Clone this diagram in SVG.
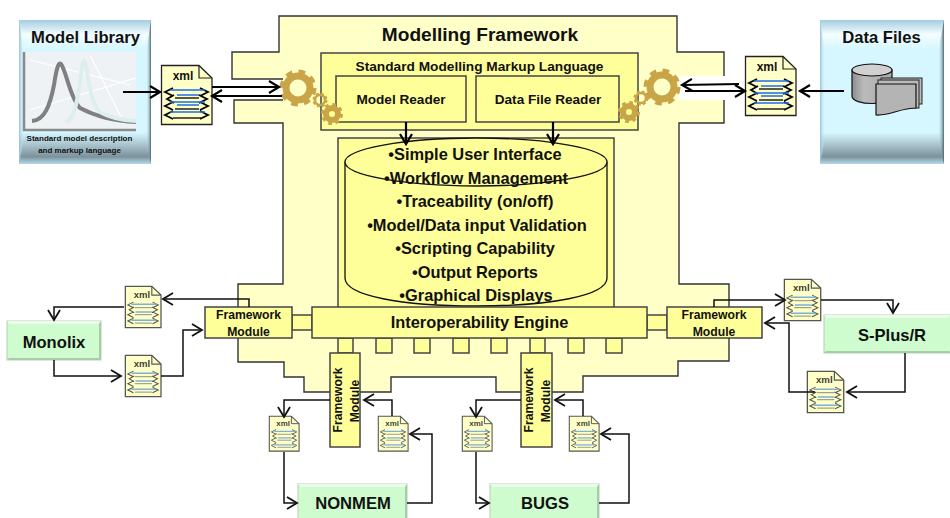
<svg xmlns="http://www.w3.org/2000/svg" width="950" height="518" viewBox="0 0 950 518">
<style>
text{font-family:"Liberation Sans",Arial,sans-serif;font-weight:bold;fill:#111;text-anchor:middle}
.y{fill:#ffff99;stroke:#444;stroke-width:1.5}
.conn{fill:none;stroke:#111;stroke-width:1.5}
.thick{fill:none;stroke:#000;stroke-width:2.2}
.green{fill:#cefcce;stroke:#b4d2b4;stroke-width:1}
.hi{fill:#ecfcea}
.lo{fill:#a9cba9}
.cyl{fill:#ffff99;stroke:#111;stroke-width:1.3}
.gear{fill:none;stroke:#c9a548}
.b{font-size:16.4px}
.fm{font-size:12.2px}
.gn{font-size:16.600px}
.rd{font-size:13.600px}
</style>
<defs>
<linearGradient id="pv" x1="0" y1="0" x2="0" y2="1">
<stop offset="0" stop-color="#a3cde0"/><stop offset=".1" stop-color="#f4fdff"/><stop offset=".2" stop-color="#d6f7ff"/><stop offset=".78" stop-color="#d6f7ff"/><stop offset=".95" stop-color="#7c929c"/><stop offset="1" stop-color="#b4dbea"/>
</linearGradient>
<linearGradient id="pr" x1="0" y1="0" x2="1" y2="0"><stop offset="0" stop-color="#d6f7ff" stop-opacity="0"/><stop offset="1" stop-color="#4e6670"/></linearGradient>
<linearGradient id="pl" x1="1" y1="0" x2="0" y2="0"><stop offset="0" stop-color="#d6f7ff" stop-opacity="0"/><stop offset="1" stop-color="#9cc0cf"/></linearGradient>
<linearGradient id="cylg" x1="0" y1="0" x2="1" y2="0"><stop offset="0" stop-color="#8e8e8e"/><stop offset=".3" stop-color="#bbb"/><stop offset="1" stop-color="#a8a8a8"/></linearGradient>
<marker id="a" markerUnits="userSpaceOnUse" markerWidth="14" markerHeight="16" refX="11" refY="7" orient="auto"><path d="M1 1L11 7L1 13" fill="none" stroke="#111" stroke-width="1.8"/></marker>
<marker id="at" markerUnits="userSpaceOnUse" markerWidth="14" markerHeight="16" refX="11" refY="7" orient="auto"><path d="M1 1L11 7L1 13" fill="none" stroke="#000" stroke-width="2.2"/></marker>
<g id="doc">
<path d="M0.5 .5H38L51 13V59.5H0.5Z" fill="#ffffc8" stroke="#222" stroke-width="1.3"/>
<path d="M38 .5V13H51" fill="none" stroke="#222" stroke-width="1.2"/>
<text x="22" y="15" style="font-size:12px">xml</text>
<g fill="none" stroke="#000" stroke-width="1.800">
<path d="M12 23L4 27L12 31M13 30L6 34L13 38M12 37L4 41L12 45M12 46L4 50L12 54M39 23L47 27L39 31M38 30L46 34L38 38M39 37L47 41L39 45M39 46L47 50L39 54"/>
</g>
<g fill="none" stroke-width="1.3">
<path d="M9 25H44M16 30H38M9 37H44M16 40H38M9 47H44" stroke="#1a6fe8"/>
<path d="M14 33H38M14 44H38M12 53H40" stroke="#222"/>
</g>
</g>
<g id="docs">
<path d="M0.5 .5H38L51 13V59.5H0.5Z" fill="#ffffc8" stroke="#555" stroke-width="1.8"/>
<path d="M38 .5V13H51" fill="none" stroke="#555" stroke-width="1.6"/>
<text x="24" y="17" style="font-size:13.5px" fill-opacity=".85">xml</text>
<g fill="none" stroke="#555" stroke-width="1.5">
<path d="M12 23L4 27L12 31M13 30L6 34L13 38M12 37L4 41L12 45M12 46L4 50L12 54M39 23L47 27L39 31M38 30L46 34L38 38M39 37L47 41L39 45M39 46L47 50L39 54"/>
</g>
<g fill="none" stroke-width="2.2">
<path d="M9 26H44M15 37H38M9 49H44" stroke="#7eb0d8"/>
<path d="M14 31H38M14 41H38M14 53H38" stroke="#777" stroke-width="1.2"/>
</g>
</g>
</defs>

<g id="framework">
<path d="M279 16H677V52H724V76H679V100H724V123H679V284H729V361H678V376H583V392H496V377H391V392H304V377H284V362H238V284H283V123H234V100H283V79H232V52H279Z" fill="#ffffc8" stroke="none"/>
<path d="M283 79H232V52H279V16H677V52H724V76M724 100V123H679V284H729V361H678V376H583V392H496V377H391V392H304V377H284V362H238V284H283V123H234V100H283" fill="none" stroke="#333" stroke-width="1.4"/>
<text x="480" y="41" style="font-size:19.100px">Modelling Framework</text>
</g>

<g id="smml">
<rect x="321" y="53" width="317" height="77" class="y"/>
<text x="479.500" y="71" style="font-size:13.700px">Standard Modelling Markup Language</text>
</g>
<g id="model-reader"><rect x="336" y="76" width="130" height="46" class="y"/><text x="401" y="104" class="rd">Model Reader</text></g>
<g id="data-file-reader"><rect x="476" y="76" width="143" height="46" class="y"/><text x="548" y="104" class="rd">Data File Reader</text></g>

<g id="features">
<rect x="338" y="138" width="276" height="172" class="y"/>
<path d="M345 162V278C345 296 403 306 476 306S607 296 607 278V162" class="cyl"/>
<ellipse cx="476" cy="162" rx="131" ry="24" class="cyl"/>
<text x="475" y="160" class="b">•Simple User Interface</text>
<text x="476" y="184" class="b">•Workflow Management</text>
<text x="475" y="207" class="b">•Traceability (on/off)</text>
<text x="477" y="231" class="b">•Model/Data input Validation</text>
<text x="475" y="254" class="b">•Scripting Capability</text>
<text x="475" y="278" class="b">•Output Reports</text>
<text x="476" y="301" class="b">•Graphical Displays</text>
</g>

<g id="model-library">
<rect x="19" y="20" width="132" height="144" fill="url(#pv)"/>
<path d="M19 20L24 52V140L19 164Z" fill="url(#pl)"/>
<path d="M151 20L146 52V140L151 164Z" fill="url(#pr)"/>
<text x="85.500" y="43" style="font-size:16.600px">Model Library</text>
<rect x="23" y="52" width="113" height="77" fill="#eef2f5"/>
<path d="M30 60L130 85M30 110L136 78M90 55L125 125" stroke="#fff" stroke-width="1.2" fill="none"/>
<path d="M24 52V130H136" fill="none" stroke="#8a8a8a" stroke-width="2.5"/>
<path d="M32 121C45 120 50 105 54 85C57 65 59 62 61 64C66 70 70 98 80 108C95 116 115 121 136 122" fill="none" stroke="#808080" stroke-width="4"/>
<path d="M66 122C74 120 78 100 81 75C83 58 84 58 86 65C89 85 92 105 100 112C110 118 120 120 136 121" fill="none" stroke="#dcefee" stroke-width="4"/>
<text x="79.500" y="141" style="font-size:8px">Standard model description</text>
<text x="79.500" y="153" style="font-size:8px">and markup language</text>
</g>

<g id="data-files">
<rect x="820" y="20" width="124" height="144" fill="url(#pv)"/>
<path d="M820 20L825 52V140L820 164Z" fill="url(#pl)"/>
<path d="M944 20L938 52V140L944 164Z" fill="url(#pr)"/>
<text x="881.500" y="43" style="font-size:16.600px">Data Files</text>
<path d="M852 70V96C852 106 892 106 892 96V70Z" fill="url(#cylg)" stroke="#111" stroke-width="1.2"/>
<ellipse cx="872" cy="70" rx="20" ry="6" fill="#d0d0d0" stroke="#111" stroke-width="1.200"/>
<rect x="881" y="78" width="41" height="26" fill="#bbb" stroke="#222"/>
<rect x="878" y="80" width="41" height="28" fill="#bbb" stroke="#222"/>
<path d="M876 84H916V108C900 108 890 116 876 115Z" fill="#b4b4b4" stroke="#111" stroke-width="1.2"/>
</g>

<g id="gears">
<g id="gear-left">
<circle cx="298" cy="88" r="12" class="gear" stroke-width="7"/>
<circle cx="298" cy="88" r="16" class="gear" stroke-width="5" stroke-dasharray="6.500 6.070"/>
<circle cx="320" cy="100" r="5" class="gear" stroke-width="2.500"/>
<circle cx="320" cy="100" r="6.500" class="gear" stroke-width="2" stroke-dasharray="3 2.100"/>
<circle cx="332" cy="114" r="6" class="gear" stroke-width="6"/>
<circle cx="332" cy="114" r="9.500" class="gear" stroke-width="3" stroke-dasharray="3.700 3.760"/>
</g>
<g id="gear-right">
<circle cx="662" cy="87" r="12" class="gear" stroke-width="7"/>
<circle cx="662" cy="87" r="16" class="gear" stroke-width="5" stroke-dasharray="6.500 6.070"/>
<circle cx="641" cy="98" r="5" class="gear" stroke-width="2.500"/>
<circle cx="641" cy="98" r="6.500" class="gear" stroke-width="2" stroke-dasharray="3 2.100"/>
<circle cx="629" cy="112" r="6" class="gear" stroke-width="6"/>
<circle cx="629" cy="112" r="9.500" class="gear" stroke-width="3" stroke-dasharray="3.700 3.760"/>
</g>
</g>

<g id="interoperability">
<rect x="292" y="315" width="20" height="15" class="y"/>
<rect x="647" y="315" width="20" height="15" class="y"/>
<rect x="338" y="338" width="15" height="15" class="y"/>
<rect x="376" y="338" width="16" height="15" class="y"/>
<rect x="414" y="338" width="16" height="15" class="y"/>
<rect x="453" y="338" width="16" height="15" class="y"/>
<rect x="491" y="338" width="16" height="15" class="y"/>
<rect x="530" y="338" width="15" height="15" class="y"/>
<rect x="568" y="338" width="16" height="15" class="y"/>
<rect x="606" y="338" width="16" height="15" class="y"/>
<rect x="312" y="307" width="335" height="31" class="y"/>
<text x="479.500" y="328" style="font-size:16.400px">Interoperability Engine</text>
</g>

<g id="fm-left"><rect x="205" y="307" width="87" height="31" class="y"/><text x="248.500" y="319" class="fm">Framework</text><text x="248.500" y="336" class="fm">Module</text></g>
<g id="fm-right"><rect x="667" y="307" width="95" height="31" class="y"/><text x="714" y="319" class="fm">Framework</text><text x="714" y="336" class="fm">Module</text></g>
<g id="fm-bottom-1"><rect x="330" y="353" width="30" height="94" class="y"/><text transform="translate(342 400) rotate(-90)" class="fm">Framework</text><text transform="translate(359 401) rotate(-90)" class="fm">Module</text></g>
<g id="fm-bottom-2"><rect x="521" y="353" width="31" height="94" class="y"/><text transform="translate(533 400) rotate(-90)" class="fm">Framework</text><text transform="translate(550 401) rotate(-90)" class="fm">Module</text></g>

<g id="monolix"><rect x="7" y="321" width="94" height="39" class="green"/><path class="hi" d="M7 321H101L98 324H10Z"/><path class="lo" d="M7 360H101L99 358H9Z"/><path class="lo" d="M101 321V360L99 358V324Z"/><text x="54" y="348" class="gn">Monolix</text></g>
<g id="splus"><rect x="824" y="315" width="127" height="38" class="green"/><path class="hi" d="M824 315H951L948 318H827Z"/><path class="lo" d="M824 353H951L949 351H826Z"/><text x="892" y="341" class="gn">S-Plus/R</text></g>
<g id="nonmem"><rect x="298" y="484" width="109" height="36" class="green"/><path class="hi" d="M298 484H407L404 487H301Z"/><path class="lo" d="M407 484V520L405 518V487Z"/><text x="353" y="509" class="gn">NONMEM</text></g>
<g id="bugs"><rect x="490" y="484" width="109" height="36" class="green"/><path class="hi" d="M490 484H599L596 487H493Z"/><path class="lo" d="M599 484V520L597 518V487Z"/><text x="545" y="509" class="gn">BUGS</text></g>

<g id="xml-docs">
<use id="xml-1" href="#doc" x="161" y="65"/>
<use id="xml-2" href="#doc" x="745" y="56"/>
<use id="xml-3" href="#docs" transform="translate(125 286) scale(.706 .7)"/>
<use id="xml-4" href="#docs" transform="translate(125 355) scale(.706 .7)"/>
<use id="xml-5" href="#docs" transform="translate(784 279) scale(.72 .7)"/>
<use id="xml-6" href="#docs" transform="translate(807 371) scale(.72 .7)"/>
<use id="xml-7" href="#docs" transform="translate(269 416) scale(.59 .59)"/>
<use id="xml-8" href="#docs" transform="translate(378 416) scale(.59 .59)"/>
<use id="xml-9" href="#docs" transform="translate(462 416) scale(.59 .59)"/>
<use id="xml-10" href="#docs" transform="translate(569 416) scale(.59 .59)"/>
</g>

<g id="connectors">
<path class="thick" marker-end="url(#at)" d="M123 92H160"/>
<path class="thick" marker-end="url(#at)" d="M212 87H279"/>
<path class="thick" marker-end="url(#at)" d="M282 96H212"/>
<path class="thick" marker-end="url(#at)" d="M739 84L682 85"/>
<path class="thick" marker-end="url(#at)" d="M685 91H745"/>
<path class="thick" marker-end="url(#at)" d="M844 91H800"/>
<path class="thick" marker-end="url(#at)" d="M406 122V144"/>
<path class="thick" marker-end="url(#at)" d="M553 122V144"/>
<path class="conn" marker-end="url(#a)" d="M249 307V299H163"/>
<path class="conn" marker-end="url(#a)" d="M124 307H54V320"/>
<path class="conn" marker-end="url(#a)" d="M54 360V376H121"/>
<path class="conn" marker-end="url(#a)" d="M161 376H183V330H202"/>
<path class="conn" marker-end="url(#a)" d="M714 307V300H785"/>
<path class="conn" marker-end="url(#a)" d="M821 300H893V313"/>
<path class="conn" marker-end="url(#a)" d="M905 353V392H847"/>
<path class="conn" marker-end="url(#a)" d="M815 392H789V323H765"/>
<path class="conn" marker-end="url(#a)" d="M330 400H284V417"/>
<path class="conn" marker-end="url(#a)" d="M284 452V503H297"/>
<path class="conn" marker-end="url(#a)" d="M407 503H432V434H410"/>
<path class="conn" marker-end="url(#a)" d="M392 416V400H364"/>
<path class="conn" marker-end="url(#a)" d="M521 400H476V417"/>
<path class="conn" marker-end="url(#a)" d="M476 452V503H489"/>
<path class="conn" marker-end="url(#a)" d="M599 503H629V434H601"/>
<path class="conn" marker-end="url(#a)" d="M583 416V400H555"/>
</g>
</svg>
